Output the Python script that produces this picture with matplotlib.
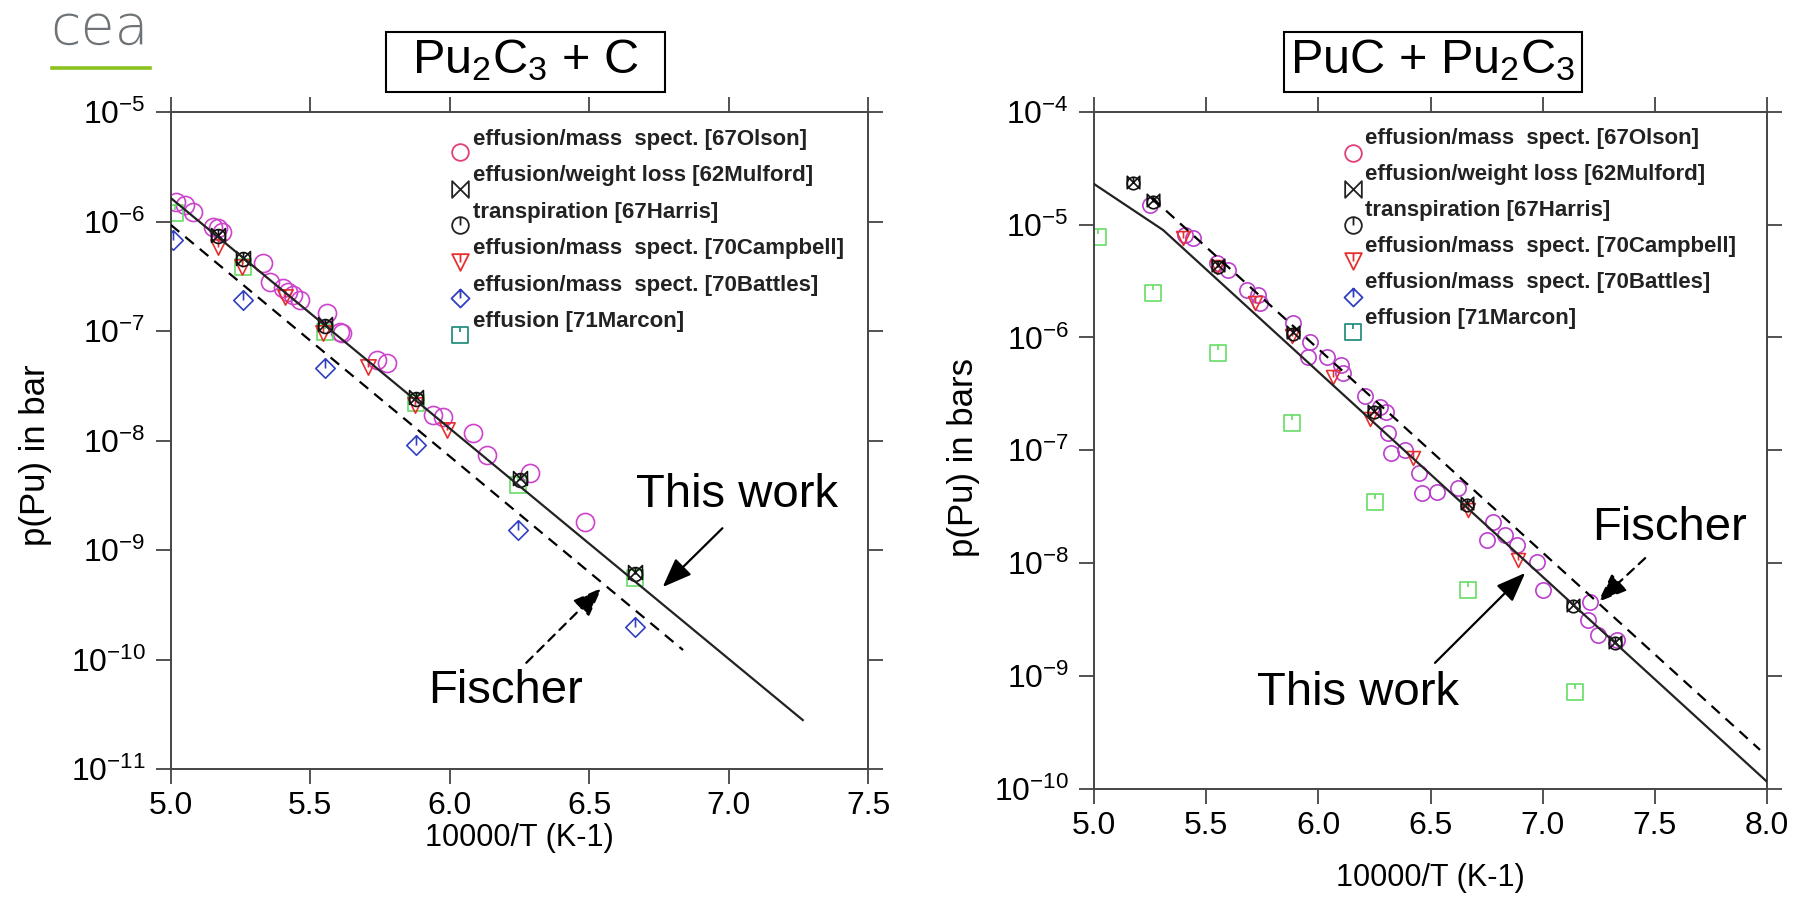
import numpy as np
import matplotlib
matplotlib.use("Agg")
import matplotlib.pyplot as plt
from matplotlib.path import Path
from matplotlib.lines import Line2D
from matplotlib.patches import Rectangle
from matplotlib.ticker import FixedLocator, FuncFormatter, NullLocator

plt.rcParams['font.family'] = ['Liberation Sans', 'DejaVu Sans']
plt.rcParams['mathtext.fontset'] = 'custom'
plt.rcParams['mathtext.rm'] = 'Liberation Sans'
plt.rcParams['mathtext.it'] = 'Liberation Sans:italic'
plt.rcParams['mathtext.bf'] = 'Liberation Sans:bold'

# ---------------- data : Pu2C3 + C (left) ----------------
L_olson_x = [5.02, 5.05, 5.08, 5.153, 5.171, 5.183, 5.332, 5.356, 5.404, 5.422, 5.439, 5.463,
             5.559, 5.607, 5.613, 5.738, 5.774, 5.941, 5.977, 6.085, 6.133, 6.288, 6.485]
L_olson_p = [1.52e-6, 1.41e-6, 1.23e-6, 8.97e-7, 8.67e-7, 8.07e-7, 4.15e-7, 2.82e-7, 2.45e-7,
             2.29e-7, 2.13e-7, 1.92e-7, 1.45e-7, 9.86e-8, 9.53e-8, 5.43e-8, 5.07e-8, 1.71e-8,
             1.65e-8, 1.16e-8, 7.38e-9, 5.01e-9, 1.82e-9]
L_mulford_x = [5.171, 5.260, 5.553, 5.881, 6.252, 6.664]
L_mulford_p = [7.53e-7, 4.61e-7, 1.17e-7, 2.51e-8, 4.52e-9, 6.34e-10]
L_harris_x = [5.171, 5.260, 5.553, 5.881, 6.252, 6.664]
L_harris_p = [7.3e-7, 4.5e-7, 1.12e-7, 2.4e-8, 4.4e-9, 6.1e-10]
L_campbell_x = [5.171, 5.254, 5.410, 5.547, 5.708, 5.876, 5.989]
L_campbell_p = [5.89e-7, 3.86e-7, 2.06e-7, 9.53e-8, 4.72e-8, 2.11e-8, 1.25e-8]
L_battles_x = [5.009, 5.260, 5.553, 5.881, 6.246, 6.665]
L_battles_p = [6.78e-7, 1.92e-7, 4.56e-8, 9.10e-9, 1.52e-9, 2.00e-10]
L_marcon_x = [5.015, 5.260, 5.553, 5.881, 6.246, 6.664]
L_marcon_p = [1.20e-6, 3.86e-7, 9.86e-8, 2.19e-8, 3.93e-9, 5.55e-10]
L_thiswork_x = [5.0, 7.266]
L_thiswork_p = [1.64e-6, 2.80e-11]
L_fischer_x = [5.0, 6.837]
L_fischer_p = [9.33e-7, 1.22e-10]

# ---------------- data : PuC + Pu2C3 (right) ----------------
R_olson_x = [5.250, 5.406, 5.443, 5.547, 5.599, 5.681, 5.733, 5.740, 5.889, 5.963, 5.955, 6.037,
             6.111, 6.10, 6.206, 6.273, 6.30, 6.309, 6.325, 6.385, 6.45, 6.462, 6.528, 6.624,
             6.780, 6.750, 6.832, 6.884, 6.973, 7.003, 7.211, 7.204, 7.248, 7.330]
R_olson_p = [1.49e-5, 8.09e-6, 7.57e-6, 4.54e-6, 3.96e-6, 2.64e-6, 2.38e-6, 2.01e-6, 1.34e-6,
             9.18e-7, 6.76e-7, 6.76e-7, 4.82e-7, 5.75e-7, 3.05e-7, 2.42e-7, 2.19e-7, 1.42e-7,
             9.48e-8, 1.0e-7, 6.3e-8, 4.2e-8, 4.31e-8, 4.61e-8, 2.34e-8, 1.61e-8, 1.78e-8,
             1.45e-8, 1.03e-8, 5.79e-9, 4.57e-9, 3.15e-9, 2.32e-9, 2.09e-9]
R_mulford_x = [5.175, 5.264, 5.554, 5.889, 6.250, 6.661, 7.137, 7.323]
R_mulford_p = [2.40e-5, 1.65e-5, 4.39e-6, 1.12e-6, 2.24e-7, 3.40e-8, 4.28e-9, 2.02e-9]
R_harris_x = [5.175, 5.264, 5.554, 5.889, 6.250, 6.661, 7.137, 7.323]
R_harris_p = [2.35e-5, 1.60e-5, 4.25e-6, 1.08e-6, 2.17e-7, 3.30e-8, 4.15e-9, 1.96e-9]
R_campbell_x = [5.398, 5.547, 5.718, 5.881, 6.067, 6.231, 6.421, 6.669, 6.892]
R_campbell_p = [7.57e-6, 4.24e-6, 2.01e-6, 1.02e-6, 4.50e-7, 1.91e-7, 8.51e-8, 2.96e-8, 1.07e-8]
R_marcon_x = [5.019, 5.264, 5.554, 5.881, 6.253, 6.669, 7.144]
R_marcon_p = [7.82e-6, 2.46e-6, 7.24e-7, 1.74e-7, 3.52e-8, 5.79e-9, 7.29e-10]
R_thiswork_x = [5.0, 5.308, 8.0]
R_thiswork_p = [2.29e-5, 8.95e-6, 1.16e-10]
R_fischer_x = [5.259, 7.969]
R_fischer_p = [1.72e-5, 2.22e-10]

legend_labels = ["effusion/mass  spect. [67Olson]",
                 "effusion/weight loss [62Mulford]",
                 "transpiration [67Harris]",
                 "effusion/mass  spect. [70Campbell]",
                 "effusion/mass  spect. [70Battles]",
                 "effusion [71Marcon]"]

L_xticks = [5.0, 5.5, 6.0, 6.5, 7.0, 7.5]
R_xticks = [5.0, 5.5, 6.0, 6.5, 7.0, 7.5, 8.0]
L_yticks = [1e-11, 1e-10, 1e-9, 1e-8, 1e-7, 1e-6, 1e-5]
R_yticks = [1e-10, 1e-9, 1e-8, 1e-7, 1e-6, 1e-5, 1e-4]

# ---------------- marker shapes ----------------
M, L_, C = Path.MOVETO, Path.LINETO, Path.CLOSEPOLY
bowtie = Path([(-1, 1), (-1, -1), (1, 1), (1, -1), (-1, 1)], [M, L_, L_, L_, C])
harris = Path.make_compound_path(Path.unit_circle(), Path([(0, 1), (0, 0)], [M, L_]))
tri_tick = Path([(-1, 1), (1, 1), (0, -1), (-1, 1), (0, 1), (0, 0)], [M, L_, L_, C, M, L_])
dia_tick = Path([(0, 1), (1, 0), (0, -1), (-1, 0), (0, 1), (0, 1), (0, 0)],
                [M, L_, L_, L_, C, M, L_])
sq_tick = Path([(-1, -1), (1, -1), (1, 1), (-1, 1), (-1, -1), (0, 1), (0, 0.35)],
               [M, L_, L_, L_, C, M, L_])

c_olson = '#cc44cc'
c_camp = '#e63030'
c_batt = '#3040c0'
c_marc = '#66dd66'

legend_styles = [
    dict(marker='o', color='#e0407a', ms=12),
    dict(marker=bowtie, color='#222222', ms=12),
    dict(marker=harris, color='#222222', ms=12),
    dict(marker=tri_tick, color=c_camp, ms=12),
    dict(marker=dia_tick, color=c_batt, ms=13),
    dict(marker=sq_tick, color='#2a9080', ms=12),
]

W, H = 1798, 898
fig = plt.figure(figsize=(W / 100, H / 100), dpi=100)
fig.patch.set_facecolor('white')


def frac_box(x0, y0, x1, y1):
    return [x0 / W, 1 - y1 / H, (x1 - x0) / W, (y1 - y0) / H]


axL = fig.add_axes(frac_box(170.7, 112, 868, 769))
axR = fig.add_axes(frac_box(1094, 111.7, 1767, 789))


def style_axes(ax, xlim, xticks, ylim, yticks, ylabel, ylab_y, xlabpad):
    ax.set_yscale('log')
    ax.set_xlim(*xlim)
    ax.set_ylim(*ylim)
    ax.xaxis.set_major_locator(FixedLocator(xticks))
    ax.xaxis.set_major_formatter(FuncFormatter(lambda v, p: f'{v:.1f}'))
    ax.yaxis.set_major_locator(FixedLocator(yticks))
    ax.yaxis.set_minor_locator(NullLocator())
    ax.yaxis.set_major_formatter(
        FuncFormatter(lambda v, p: r'10$^{%d}$' % int(round(np.log10(v)))))
    ax.tick_params(which='major', direction='out', top=True, right=True,
                   length=11, width=1.3, color='#444444', labelsize=23, pad=5)
    ax.tick_params(axis='y', pad=7)
    for s in ax.spines.values():
        s.set_color('#444444')
        s.set_linewidth(1.4)
    ax.set_xlabel('10000/T (K-1)', fontsize=22, labelpad=xlabpad)
    ax.set_ylabel(ylabel, fontsize=25)
    ax.yaxis.set_label_coords(-0.17, ylab_y)


def draw_series(ax, x, p, marker, color, ms, mew=1.2, z=2):
    ax.plot(x, p, linestyle='none', marker=marker, ms=ms, mfc='none', mec=color,
            mew=mew, zorder=z)


def draw_legend(ax, mx, tx, y0, step, dy):
    for i, (lab, st) in enumerate(zip(legend_labels, legend_styles)):
        y = y0 - i * step
        ax.plot([mx], [y], transform=ax.transAxes, linestyle='none', marker=st['marker'],
                ms=st['ms'], mfc='none', mec=st['color'], mew=1.3, clip_on=False)
        ax.text(tx, y + dy, lab, transform=ax.transAxes, fontsize=16, fontweight='bold',
                color='#222222', ha='left', va='center')


arrow_solid = dict(arrowstyle='-|>,head_length=0.9,head_width=0.35', color='black',
                   lw=1.6, mutation_scale=20, shrinkA=0, shrinkB=0)
arrow_dash = dict(arrow_solid, ls=(0, (4, 3)))

# ---------------- left panel ----------------
style_axes(axL, (5.0, 7.5), L_xticks, (1e-11, 1e-5), L_yticks, 'p(Pu) in bar', 0.478, 1)
draw_series(axL, L_olson_x, L_olson_p, 'o', c_olson, 13)
draw_series(axL, L_marcon_x, L_marcon_p, sq_tick, c_marc, 12)
draw_series(axL, L_battles_x, L_battles_p, dia_tick, c_batt, 14)
draw_series(axL, L_campbell_x, L_campbell_p, tri_tick, c_camp, 11)
draw_series(axL, L_mulford_x, L_mulford_p, bowtie, '#111111', 10, z=3)
draw_series(axL, L_harris_x, L_harris_p, harris, '#111111', 10, z=3)
axL.plot(L_thiswork_x, L_thiswork_p, color='#222222', lw=1.6, zorder=4)
axL.plot(L_fischer_x, L_fischer_p, color='black', lw=1.6, ls=(0, (5, 3.5)), zorder=4)
draw_legend(axL, 0.415, 0.4335, 0.939, 0.0556, 0.0198)

axL.text(6.67, 2.47e-9, 'This work', fontsize=34, ha='left', va='baseline')
axL.annotate('', xy=(6.764, 4.59e-10), xytext=(6.978, 1.58e-9), arrowprops=arrow_solid)
axL.text(5.922, 4.01e-11, 'Fischer', fontsize=34, ha='left', va='baseline')
axL.annotate('', xy=(6.545, 4.50e-10), xytext=(6.275, 9.33e-11), arrowprops=arrow_dash)

# ---------------- right panel ----------------
style_axes(axR, (5.0, 8.0), R_xticks, (1e-10, 1e-4), R_yticks, 'p(Pu) in bars', 0.49, 16)
draw_series(axR, R_olson_x, R_olson_p, 'o', '#bb40cc', 11)
draw_series(axR, R_marcon_x, R_marcon_p, sq_tick, c_marc, 12)
draw_series(axR, R_campbell_x, R_campbell_p, tri_tick, c_camp, 10)
draw_series(axR, R_mulford_x, R_mulford_p, bowtie, '#111111', 9, z=3)
draw_series(axR, R_harris_x, R_harris_p, harris, '#111111', 9, z=3)
axR.plot(R_thiswork_x, R_thiswork_p, color='#222222', lw=1.6, zorder=4)
axR.plot(R_fischer_x, R_fischer_p, color='black', lw=1.6, ls=(0, (5, 3.5)), zorder=4)
draw_legend(axR, 0.3844, 0.4027, 0.9395, 0.0531, 0.0207)

axR.text(5.727, 5.56e-10, 'This work', fontsize=34, ha='left', va='baseline')
axR.annotate('', xy=(6.922, 8.20e-9), xytext=(6.520, 1.31e-9), arrowprops=arrow_solid)
axR.text(7.220, 1.61e-8, 'Fischer', fontsize=34, ha='left', va='baseline')
axR.annotate('', xy=(7.247, 4.54e-9), xytext=(7.457, 1.11e-8), arrowprops=arrow_dash)

# ---------------- titles (boxed) ----------------
for (x0, x1), title in [((386, 665), 'Pu$_2$C$_3$ + C'), ((1284, 1582), 'PuC + Pu$_2$C$_3$')]:
    fig.add_artist(Rectangle((x0 / W, 1 - 92 / H), (x1 - x0) / W, 60 / H,
                             transform=fig.transFigure, fc='white', ec='black', lw=1.5))
    fig.text((x0 + x1) / 2 / W, 1 - 60 / H, title, fontsize=35, ha='center', va='center')

# ---------------- logo ----------------
fig.text(50 / W, 1 - 44 / H, 'cea', fontsize=40, color='#6d7377', ha='left', va='baseline',
         family=['DejaVu Sans'], fontweight='light')
fig.add_artist(Line2D([52 / W, 150 / W], [1 - 68 / H, 1 - 68 / H], transform=fig.transFigure,
                      color='#8cc21f', lw=2.6))

fig.savefig('out.png', dpi=100, facecolor='white')
